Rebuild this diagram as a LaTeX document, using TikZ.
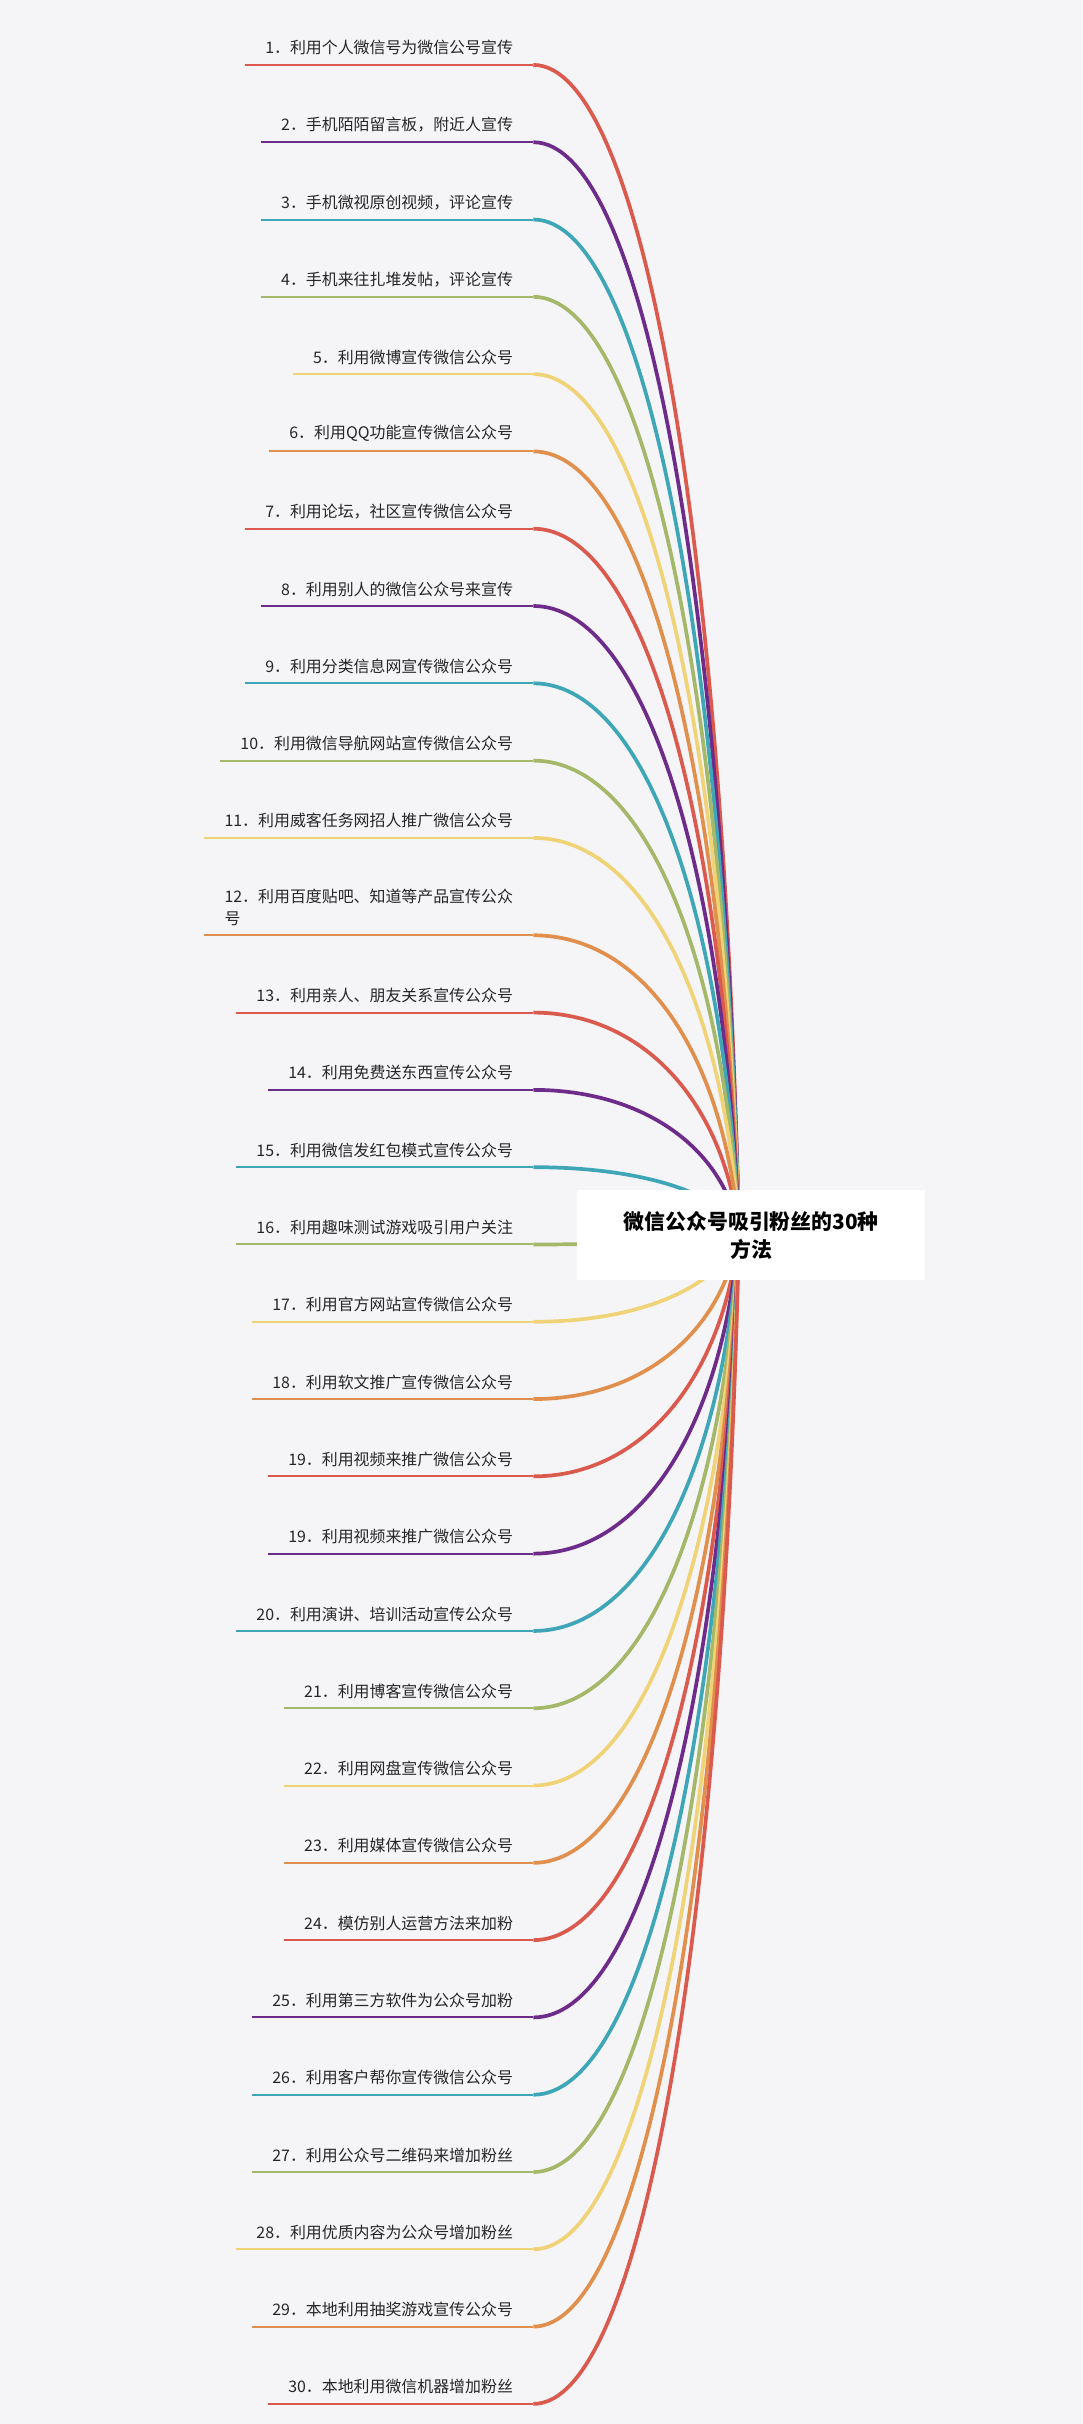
\documentclass[tikz,border=0pt]{standalone}
\usepackage{fontspec}
\setmainfont{Noto Sans CJK SC}
\usetikzlibrary{calc}
\definecolor{bgcol}{HTML}{F5F5F8}
\definecolor{cRed}{HTML}{DB5A4E}
\definecolor{cPur}{HTML}{6E2C8A}
\definecolor{cTeal}{HTML}{3FA6B8}
\definecolor{cGrn}{HTML}{A5B86A}
\definecolor{cYel}{HTML}{F0D277}
\definecolor{cOra}{HTML}{E0904C}

\begin{document}
\begin{tikzpicture}[x=1pt,y=1pt]

\tikzset{branch-label/.style={anchor=south east, inner xsep=13pt, inner ysep=6pt,
                              font=\fontsize{10.3}{14}\selectfont, text=black!85},
         branch-line/.style={line width=1.3pt},
         branch-curve/.style={line width=2.4pt},
         root-box/.style={fill=white, minimum width=225pt, minimum height=58pt,
                          align=center, font=\fontsize{13.5}{18}\bfseries\selectfont}}

\fill[bgcol] (0,0) rectangle (700,-1568);
\useasboundingbox (0,0) rectangle (700,-1568);

\coordinate (hub) at (478,-797);

\foreach \i/\ypos/\col/\txt in {
  1/42/cRed/{1．利用个人微信号为微信公号宣传},
  2/92/cPur/{2．手机陌陌留言板，附近人宣传},
  3/142/cTeal/{3．手机微视原创视频，评论宣传},
  4/192/cGrn/{4．手机来往扎堆发帖，评论宣传},
  5/242/cYel/{5．利用微博宣传微信公众号},
  6/292/cOra/{6．利用QQ功能宣传微信公众号},
  7/342/cRed/{7．利用论坛，社区宣传微信公众号},
  8/392/cPur/{8．利用别人的微信公众号来宣传},
  9/442/cTeal/{9．利用分类信息网宣传微信公众号},
  10/492/cGrn/{10．利用微信导航网站宣传微信公众号},
  11/542/cYel/{11．利用威客任务网招人推广微信公众号},
  13/655/cRed/{13．利用亲人、朋友关系宣传公众号},
  14/705/cPur/{14．利用免费送东西宣传公众号},
  15/755/cTeal/{15．利用微信发红包模式宣传公众号},
  16/805/cGrn/{16．利用趣味测试游戏吸引用户关注},
  17/855/cYel/{17．利用官方网站宣传微信公众号},
  18/905/cOra/{18．利用软文推广宣传微信公众号},
  19/955/cRed/{19．利用视频来推广微信公众号},
  19b/1005/cPur/{19．利用视频来推广微信公众号},
  20/1055/cTeal/{20．利用演讲、培训活动宣传公众号},
  21/1105/cGrn/{21．利用博客宣传微信公众号},
  22/1155/cYel/{22．利用网盘宣传微信公众号},
  23/1205/cOra/{23．利用媒体宣传微信公众号},
  24/1255/cRed/{24．模仿别人运营方法来加粉},
  25/1305/cPur/{25．利用第三方软件为公众号加粉},
  26/1355/cTeal/{26．利用客户帮你宣传微信公众号},
  27/1405/cGrn/{27．利用公众号二维码来增加粉丝},
  28/1455/cYel/{28．利用优质内容为公众号增加粉丝},
  29/1505/cOra/{29．本地利用抽奖游戏宣传公众号},
  30/1555/cRed/{30．本地利用微信机器增加粉丝}} {
  \pgfmathsetmacro{\cy}{-797+0.6*(797-\ypos)}
  \node[branch-label] (m\i) at (345,-\ypos) {\txt};
  \draw[branch-line, \col] (m\i.south west) -- (m\i.south east);
  \draw[branch-curve, \col] (m\i.south east) .. controls +(70,0) and (468,\cy) .. (hub);
}

% item 12 has two lines
\node[branch-label, align=left] (m12) at (345,-605)
  {12．利用百度贴吧、知道等产品宣传公众\\号};
\draw[branch-line, cOra] (m12.south west) -- (m12.south east);
\draw[branch-curve, cOra] (m12.south east) .. controls +(70,0) and (468,-680) .. (hub);

\node[root-box] (root) at (486,-799) {微信公众号吸引粉丝的30种\\方法};

\end{tikzpicture}
\end{document}
